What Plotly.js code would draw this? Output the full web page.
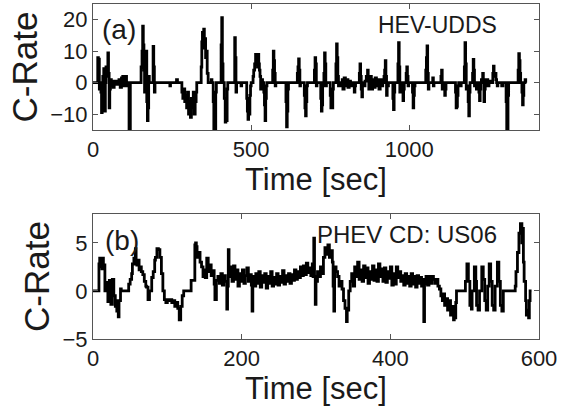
<!DOCTYPE html>
<html>
<head>
<meta charset="utf-8">
<script src="https://cdn.plot.ly/plotly-3.0.1.min.js"></script>
<style>
  html, body { margin: 0; padding: 0; background: #fff; }
  #chart { width: 570px; height: 409px; }
</style>
</head>
<body>
<div id="chart"></div>
<script>
// ---- Panel (a): HEV-UDDS, time [s] and C-rate ----
const uddsTime = [
  0,14,15,17,19,20,22,25,27,29,31,34,35,37,39,41,43,47,49,51,53,55,58,61,64,67,71,74,78,82,86,90,94,97,100,103,106,109,
  113,114,117,118,150,152,155,157,159,161,163,166,168,170,172,174,176,178,189,190,192,194,196,
  240,243,245,262,264,267,278,281,284,287,290,293,296,299,302,305,308,311,314,317,320,323,326,328,
  340,342,344,346,348,350,352,354,356,358,361,364,372,374,376,380,382,386,388,390,
  403,405,407,409,411,415,418,420,422,424,426,446,448,450,452,454,
  466,468,470,484,486,488,490,492,494,496,498,500,502,
  506,508,511,514,516,518,520,522,524,526,528,530,532,534,536,
  540,542,544,546,548,550,566,568,570,572,574,576,578,
  608,610,612,614,616,618,644,646,648,650,652,654,656,
  668,670,672,674,676,678,698,700,702,704,706,708,
  720,722,724,726,728,730,732,734,736,738,740,
  750,752,754,756,758,760,766,768,770,772,774,776,778,780,
  786,788,790,794,798,802,806,810,814,818,824,826,828,830,832,
  840,842,844,846,848,850,852,856,860,864,868,870,872,874,876,880,884,888,892,896,900,904,908,912,916,
  920,922,924,926,928,930,934,946,948,950,952,954,962,964,966,968,970,972,
  978,980,982,984,988,990,992,994,996,998,1000,1010,1012,1014,1016,1018,1020,
  1050,1052,1054,1056,1058,1060,1062,1070,1074,1076,1078,1080,1082,
  1098,1100,1102,1104,1106,1110,1112,1114,1116,1118,
  1144,1146,1148,1150,1152,1154,1156,1160,1162,1164,
  1172,1174,1176,1178,1180,1184,1186,1188,1190,1192,
  1198,1200,1202,1204,1206,1208,1212,1214,1220,1222,1224,1226,1228,
  1232,1234,1236,1238,1240,1244,1248,1252,1256,1262,1264,1266,1268,1270,1274,1276,1278,1280,
  1286,1292,1296,1304,1306,1308,1310,1312,1314,1320,1330,1340,
  1342,1344,1346,1348,1350,1352,1356,1358,1360,1362,1364,1366,1368,1370
];
const uddsRate = [
  0,0,8,3,7.5,-2,0,-3,-9.5,-4,2,4.5,-3,-9,0,5,2,9.5,3,-8,-2,1,-1,0.5,-1.5,0,0.5,-0.5,0,1,-1.5,1.5,2,-1,1,2,-1,0,
  0,-15,-15,0,0,5,10,18,12,4,-3,0,10,-6,-12,-8,2,0,0,11.5,5,-3,0,
  0,-1,0,0,1,0,0,-3,-5,-2,-6,-4,-8,-3,-10,-6,-11,-5,-8,-3,-10,-6,-3,0,
  0,5,13,16,11,17,12,14,8,10,3,0,0,1,0,-6,-15,-15,-3,0,
  0,12,20.7,6,0,-5,-12.5,-8,-12,-2,0,0,14.3,8,-3,0,
  0,-1,0,0,-5,-9,-11.6,-6,-10,-4,-1,0,0,
  2,4,6,9,7,8,5,9,6,4,2,-2,0,1,0,
  -3,-7,-12,-5,-1,0,0,4,10,7,3,-1,0,
  0,-6,-14,-9,-2,0,0,3,5,7.6,4,-1,0,
  -4,-8,-10.5,-6,-1,0,0,4,8,6,-1,0,
  -5,-9,-7,-1,0,3,9.5,6,-1,0,0,
  -4,-8,-6,-8,-2,0,0,6,12.3,8,2,-1,0,-1,
  0,1,-2,1.5,-1,1,-1.5,0.5,-1,0,-1,-3,-1,0,0,
  0,3,6,2,-2,-4.5,0,-1,0.5,2,4,1,-2,0,2,-2,1,-1.5,1.5,-1,1,-2,1,-1,0,
  2,4,7,2,-4,-1,0,0,-5,-8.5,-3,0,0,6,12.7,5,-3,0,
  -3,-5.7,-2,0,0,3,5,2,-1,0,0,-3,-8,-4,-1,0,0,
  0,4,8,11.7,3,-2,0,0,1.5,-1,0,0,0,
  0,2,4,-2,0,-1,-4,-2,0,0,
  0,-3,-8,-7.5,-4,-1,0,0,-1,0,
  0,5,12.7,6,-2,-1,-6,-10.5,-3,0,
  0,3,7.4,4,-1,0,-2,0,-3,-5.7,-2,0,1,
  3,1,-6,-2,0,1,-1,0.5,0,0,3,5.3,2,3,1,0,-1,0,
  0,-1,0,0,-6,-15,-15,-4,0,0,0,0,
  0,4,9.2,7,3,0,-3,-7,-4,0,0,1,0,0
];

// ---- Panel (b): PHEV CD: US06, time [s] and C-rate ----
const us06Time = [
  0,7,8,9,10,11,12,13,14,15,16,18,20,22,24,26,28,30,31,32,33,34,35,37,38,47,48,50,52,53,55,57,58,59,61,62,64,65,67,69,71,72,74,76,78,
  79,81,83,84,86,88,90,92,94,96,98,100,102,104,106,108,110,112,114,116,118,120,122,131,132,135,137,138,139,140,142,144,146,148,150,
  151,153,155,157,159,161,163,164,166,168,170,172,174,176,178,180,181,182,183,185,187,189,191,193,195,197,199,201,203,205,207,209,211,213,
  214,215,217,219,221,223,225,227,229,231,233,235,237,239,241,243,245,247,249,251,253,255,257,259,261,263,265,267,269,271,273,275,277,279,
  281,283,285,287,289,291,293,295,296,297,298,299,300,302,304,306,308,310,312,314,316,318,320,322,323,324,325,327,329,331,333,335,337,
  339,341,342,344,346,348,350,352,354,356,358,360,362,364,366,368,370,372,374,376,378,380,382,384,386,388,390,392,394,396,398,400,402,
  404,406,408,410,412,414,416,418,420,422,424,426,428,430,432,434,436,438,440,442,444,445,446,448,450,452,454,456,458,460,462,464,466,
  468,470,471,473,475,477,479,481,483,485,486,487,488,489,500,501,503,505,507,509,510,513,515,516,518,520,523,525,527,529,531,533,535,
  537,539,541,544,546,548,550,552,553,555,557,559,568,569,571,573,575,577,578,579,580,582,583,585,586,587,588,590,600
];
const us06Rate = [
  0,0,2.8,3.4,2.5,3.3,2.3,3.4,2.6,2.7,0,0.9,-1.1,1.1,-1.4,1.2,-0.5,-1.6,-1,-2.1,-1.4,-2.7,-1,0.2,0,0,0.7,1.2,1.8,2.8,3.4,4.4,2.8,2.7,3.2,2.2,2.5,2,1.7,1,0.5,0.4,-0.9,0,0,
  1.4,2,3.2,3.5,4.4,4.3,3.5,1.8,0,-0.9,-1.2,-0.9,-1,-0.9,-1.2,-1,-1.6,-1.2,-1.8,-3,-1.6,-0.5,0,0,1.1,1.1,4.8,5,4.6,3.5,4,3,2.5,1.5,2.2,
  1.4,3.4,2,2.7,1.6,2.1,0.7,-0.9,1.1,1.5,0.8,1.8,0.6,1.6,1,-1.9,0.5,4.3,1.5,2.5,1,2.6,1.2,2.2,0.5,1.8,1,2.2,0.8,1.6,2.4,1,1.7,0.6,
  -2.1,1.5,0.5,1.8,0.8,2,0.4,1.6,0.9,1.8,0.3,1.5,0.8,2,0.5,1.4,0.7,1.8,0.6,1.5,0.9,2.1,0.7,1.6,1,1.8,0.8,1.7,1.1,2.2,1.2,2,1.4,2.5,
  1.6,2.6,1.7,2.9,1.9,2.4,1.6,2.8,1.5,5.5,1.5,-1.4,1,2,1.5,2.5,1.8,3.5,4.5,3.8,4.8,3.5,4.2,3,0.5,-2.1,2.5,2,1.5,0.5,1,0.2,-1,
  -1.8,-3.2,-2,0,1,1.8,0.5,2.5,1.5,3,1.2,2.2,1,2.6,1.4,2.4,0.8,2,1.2,2.6,1.1,2.2,1,2.8,1.5,2.3,1,2.4,0.9,2,1.3,2.5,0.6,
  1.8,0.7,2.5,1.4,2,1,1.6,0.6,1.8,0.8,1.5,0.5,1.8,0.7,1.5,0.4,1.6,0.8,1.4,0.5,1.2,-3.2,0.8,1.5,0.6,1.5,0.8,1.5,1.2,0.8,1.2,0.5,0.2,
  -0.5,-1,-0.3,-1.5,-0.8,-2,-1,-2.5,-1.6,-3,-2,-2.8,-1.2,0,0,1,2.8,1,-1.5,-1.9,0,2.5,1,-1.5,-2,0,2.5,1.2,-1,-2,0.5,2.8,1,
  -1.5,-2,0.5,3,1,-1.5,-2.1,0,0,0,0,0,0.5,2,4,6,7,5,6.5,3,1,-1,-2.5,-2,-2.8,-1,0,0
];

const lineStyle = { color: '#000000', width: 2.8, shape: 'hv' };
const FONT = 'Liberation Sans, Arial, Helvetica, sans-serif';

const traces = [
  { x: uddsTime, y: uddsRate, type: 'scatter', mode: 'lines', line: lineStyle, xaxis: 'x', yaxis: 'y', hoverinfo: 'skip' },
  { x: us06Time, y: us06Rate, type: 'scatter', mode: 'lines', line: lineStyle, xaxis: 'x2', yaxis: 'y2', hoverinfo: 'skip' }
];

const axisCommon = {
  showline: true, mirror: 'ticks', linecolor: '#555', linewidth: 1,
  ticks: 'inside', ticklen: 5, tickcolor: '#555', tickwidth: 1,
  showgrid: false, zeroline: false,
  tickfont: { family: FONT, size: 22, color: '#1a1a1a' }
};

const layout = {
  width: 570, height: 409,
  margin: { l: 93, r: 31, t: 4, b: 70 },
  paper_bgcolor: '#ffffff', plot_bgcolor: '#ffffff',
  showlegend: false,
  font: { family: FONT, color: '#1a1a1a' },
  xaxis: Object.assign({}, axisCommon, {
    domain: [0, 1], anchor: 'y', range: [0, 1410], tickvals: [0, 500, 1000],
    title: { text: 'Time [sec]', font: { family: FONT, size: 31, color: '#1a1a1a' }, standoff: 2 }
  }),
  yaxis: Object.assign({}, axisCommon, {
    domain: [0.624, 1], anchor: 'x', range: [-15, 25], tickvals: [-10, 0, 10, 20],
    title: { text: 'C-Rate', font: { family: FONT, size: 35, color: '#1a1a1a' }, standoff: 2 }
  }),
  xaxis2: Object.assign({}, axisCommon, {
    domain: [0, 1], anchor: 'y2', range: [0, 600], tickvals: [0, 200, 400, 600],
    title: { text: 'Time [sec]', font: { family: FONT, size: 31, color: '#1a1a1a' }, standoff: 2 }
  }),
  yaxis2: Object.assign({}, axisCommon, {
    domain: [0, 0.373], anchor: 'x2', range: [-5, 8], tickvals: [-5, 0, 5],
    title: { text: 'C-Rate', font: { family: FONT, size: 35, color: '#1a1a1a' }, standoff: 2 }
  }),
  annotations: [
    { text: '(a)', xref: 'paper', yref: 'paper', x: 0.016, y: 0.925, xanchor: 'left', yanchor: 'middle', showarrow: false, font: { family: FONT, size: 28, color: '#1a1a1a' } },
    { text: 'HEV-UDDS', xref: 'paper', yref: 'paper', x: 0.910, y: 0.937, xanchor: 'right', yanchor: 'middle', showarrow: false, font: { family: FONT, size: 23, color: '#1a1a1a' } },
    { text: '(b)', xref: 'paper', yref: 'paper', x: 0.0225, y: 0.2955, xanchor: 'left', yanchor: 'middle', showarrow: false, font: { family: FONT, size: 28, color: '#1a1a1a' } },
    { text: 'PHEV CD: US06', xref: 'paper', yref: 'paper', x: 0.910, y: 0.313, xanchor: 'right', yanchor: 'middle', showarrow: false, font: { family: FONT, size: 24, color: '#1a1a1a' } }
  ]
};

Plotly.newPlot('chart', traces, layout, { staticPlot: true, displayModeBar: false });
</script>
</body>
</html>
